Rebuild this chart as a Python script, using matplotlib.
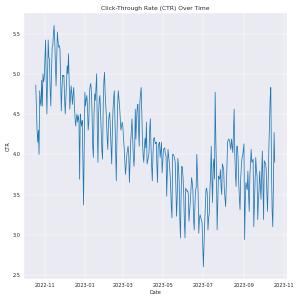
import matplotlib
matplotlib.use('Agg')
import matplotlib.pyplot as plt
import pandas as pd
import seaborn as sns

# daily CTR (2022-10-18 onwards)
start_date = '2022-10-18'
ctr = [
    4.86, 4.6, 4.3, 4.15, 4.3, 4.0, 4.79, 4.65, 4.6, 4.92,
    4.6, 5.0, 4.9, 4.95, 5.2, 5.42, 4.9, 4.5, 5.0, 5.42,
    5.2, 5.19, 4.8, 4.6, 5.0, 5.33, 5.35, 5.5, 5.6, 5.4,
    5.1, 4.85, 5.2, 5.52, 5.4, 5.33, 5.35, 5.3, 4.9, 4.54,
    4.8, 4.98, 4.97, 4.98, 4.7, 4.5, 4.7, 4.9, 5.1, 5.0,
    5.25, 4.9, 4.56, 4.7, 4.85, 4.75, 4.62, 4.75, 4.83, 4.6,
    4.45, 4.35, 4.45, 4.5, 4.4, 4.48, 4.4, 3.69, 4.5, 4.4,
    4.35, 4.42, 3.9, 3.37, 4.1, 4.77, 4.6, 4.68, 4.73, 4.6,
    4.3, 4.4, 4.75, 4.85, 4.88, 4.77, 4.5, 4.1, 3.96, 4.5,
    4.75, 4.67, 4.85, 5.0, 4.3, 3.9, 4.5, 4.69, 4.73, 4.5,
    4.27, 4.05, 3.94, 4.6, 4.9, 5.02, 4.75, 4.6, 4.44, 4.2,
    4.06, 4.4, 4.48, 4.52, 4.3, 4.1, 3.88, 4.3, 4.56, 4.7,
    4.79, 4.4, 3.95, 3.67, 4.2, 4.6, 4.79, 4.7, 4.6, 4.44,
    4.3, 4.35, 4.4, 4.35, 4.2, 4.08, 3.9, 3.75, 3.85, 3.98,
    4.05, 4.1, 4.0, 3.65, 3.9, 4.15, 4.3, 4.44, 4.2, 3.98,
    3.85, 4.0, 4.56, 4.19, 4.45, 4.58, 4.62, 4.3, 4.1, 4.65,
    4.75, 4.83, 4.5, 4.15, 3.98, 3.9, 4.1, 4.2, 4.08, 4.4,
    3.88, 3.92, 3.96, 4.02, 4.3, 4.44, 4.1, 3.85, 3.67, 4.0,
    4.19, 4.21, 4.15, 4.13, 4.15, 3.85, 3.65, 4.1, 4.13, 4.15,
    3.96, 4.05, 4.15, 3.77, 3.9, 4.06, 4.07, 4.08, 4.0, 3.98,
    3.48, 3.8, 4.06, 3.98, 3.88, 3.78, 3.6, 3.35, 3.21, 4.0,
    4.0, 3.98, 3.95, 3.9, 3.6, 3.23, 3.45, 3.95, 3.85, 3.65,
    3.2, 2.96, 3.5, 3.85, 3.83, 3.7, 3.5, 3.15, 2.96, 3.58,
    3.56, 3.54, 3.55, 3.5, 3.17, 3.3, 3.4, 3.55, 3.71, 3.65,
    3.55, 3.2, 3.06, 3.35, 3.56, 3.58, 4.0, 3.75, 3.5, 3.02,
    3.2, 3.25, 3.21, 3.19, 3.15, 2.85, 2.6, 2.9, 3.15, 3.35,
    3.56, 3.58, 3.5, 3.06, 3.2, 3.27, 3.55, 3.75, 4.1, 3.7,
    3.4, 3.85, 3.94, 3.69, 4.77, 4.2, 3.77, 3.06, 3.4, 3.73,
    3.71, 3.69, 3.81, 3.6, 3.5, 3.88, 3.85, 3.81, 3.56, 3.45,
    3.35, 3.6, 3.85, 4.15, 4.18, 4.19, 4.17, 4.1, 4.06, 4.19,
    4.1, 4.02, 4.3, 4.56, 4.0, 3.75, 3.6, 4.1, 4.1, 3.95,
    3.65, 3.45, 3.31, 3.7, 3.85, 3.95, 3.98, 4.05, 4.13, 2.94,
    3.4, 3.65, 3.6, 3.56, 3.79, 3.5, 3.29, 3.73, 3.9, 4.06,
    3.9, 3.92, 3.94, 3.1, 3.4, 3.65, 3.96, 3.8, 3.73, 3.19,
    3.4, 3.56, 3.79, 3.6, 3.44, 3.75, 4.04, 3.6, 3.19, 3.92,
    3.9, 3.88, 3.81, 3.5, 3.29, 3.7, 4.06, 4.4, 4.7, 4.83,
    3.85, 3.3, 3.1, 3.6, 4.27, 3.9,
]
dates = pd.date_range(start=start_date, periods=len(ctr), freq='D')

sns.set_style('darkgrid')

fig, ax = plt.subplots(figsize=(300 / 36, 300 / 36))
ax.plot(dates, ctr, color='#1f77b4', linewidth=1.5)

ax.set_title('Click-Through Rate (CTR) Over Time')
ax.set_xlabel('Date')
ax.set_ylabel('CTR')

plt.tight_layout()
plt.savefig('out.png', dpi=36)
